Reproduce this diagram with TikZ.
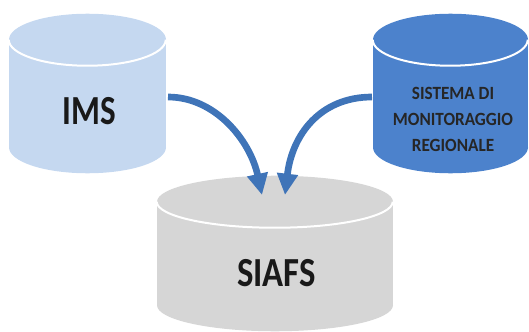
\documentclass[tikz,border=0pt]{standalone}
\usepackage{fontspec}
\setmainfont{Carlito}
\usetikzlibrary{shapes.geometric,arrows.meta}
\definecolor{imsblue}{HTML}{C5D8F0}
\definecolor{regblue}{HTML}{4C82CC}
\definecolor{siafsgray}{HTML}{D6D6D6}
\definecolor{arrowblue}{HTML}{3F74B8}
\tikzset{
  dbbody/.style={rectangle,draw=none,inner sep=0pt},
  dbcap/.style={ellipse,draw=none,inner sep=0pt},
  rim/.style={draw=white,line width=1.5pt},
  bigtext/.style={font=\fontsize{31}{31}\selectfont\bfseries,text=black!90},
  flow/.style={draw=arrowblue,line width=5pt,-{Triangle[length=16pt,width=15pt]}}
}
\begin{document}
\begin{tikzpicture}[x=0.75pt,y=-0.75pt]
  \useasboundingbox (0,0) rectangle (529,332);
  % IMS
  \node[dbbody,fill=imsblue,minimum width=117.75pt,minimum height=80.25pt] (ims) at (87.5,93.5) {};
  \node[dbcap,fill=imsblue,minimum width=117.75pt,minimum height=39pt] (imstop) at (ims.north) {};
  \node[dbcap,fill=imsblue,minimum width=117.75pt,minimum height=39pt] (imsbot) at (ims.south) {};
  \draw[rim] (ims.north west) arc[start angle=180,end angle=360,x radius=58.875pt,y radius=19.5pt];
  \node[bigtext,xscale=0.8] (imstext) at (89.5,111) {IMS};

  % regional system
  \node[dbbody,fill=regblue,minimum width=116.25pt,minimum height=80.25pt] (reg) at (450.5,93.5) {};
  \node[dbcap,fill=regblue,minimum width=116.25pt,minimum height=39pt] (regtop) at (reg.north) {};
  \node[dbcap,fill=regblue,minimum width=116.25pt,minimum height=39pt] (regbot) at (reg.south) {};
  \draw[rim] (reg.north west) arc[start angle=180,end angle=360,x radius=58.125pt,y radius=19.5pt];
  \node[font=\fontsize{14}{19.5}\selectfont\bfseries,text=black!85,align=center,xscale=0.92] (regtext) at (453,119) {SISTEMA DI\\MONITORAGGIO\\REGIONALE};

  % SIAFS
  \node[dbbody,fill=siafsgray,minimum width=177pt,minimum height=77.25pt] (siafs) at (275,253.5) {};
  \node[dbcap,fill=siafsgray,minimum width=177pt,minimum height=39pt] (siafstop) at (siafs.north) {};
  \node[dbcap,fill=siafsgray,minimum width=177pt,minimum height=39pt] (siafsbot) at (siafs.south) {};
  \draw[rim] (siafs.north west) arc[start angle=180,end angle=360,x radius=88.5pt,y radius=19.5pt];
  \node[bigtext,xscale=0.84] (siafstext) at (276.5,273) {SIAFS};

  % arrows
  \coordinate (imsend) at (168,97);
  \coordinate (regend) at (372,97);
  \coordinate (tipl) at (262,195);
  \coordinate (tipr) at (285,195);
  \draw[flow] (imsend) .. controls (215,97) and (250,140) .. (tipl);
  \draw[flow] (regend) .. controls (320,97) and (292,135) .. (tipr);
\end{tikzpicture}
\end{document}
